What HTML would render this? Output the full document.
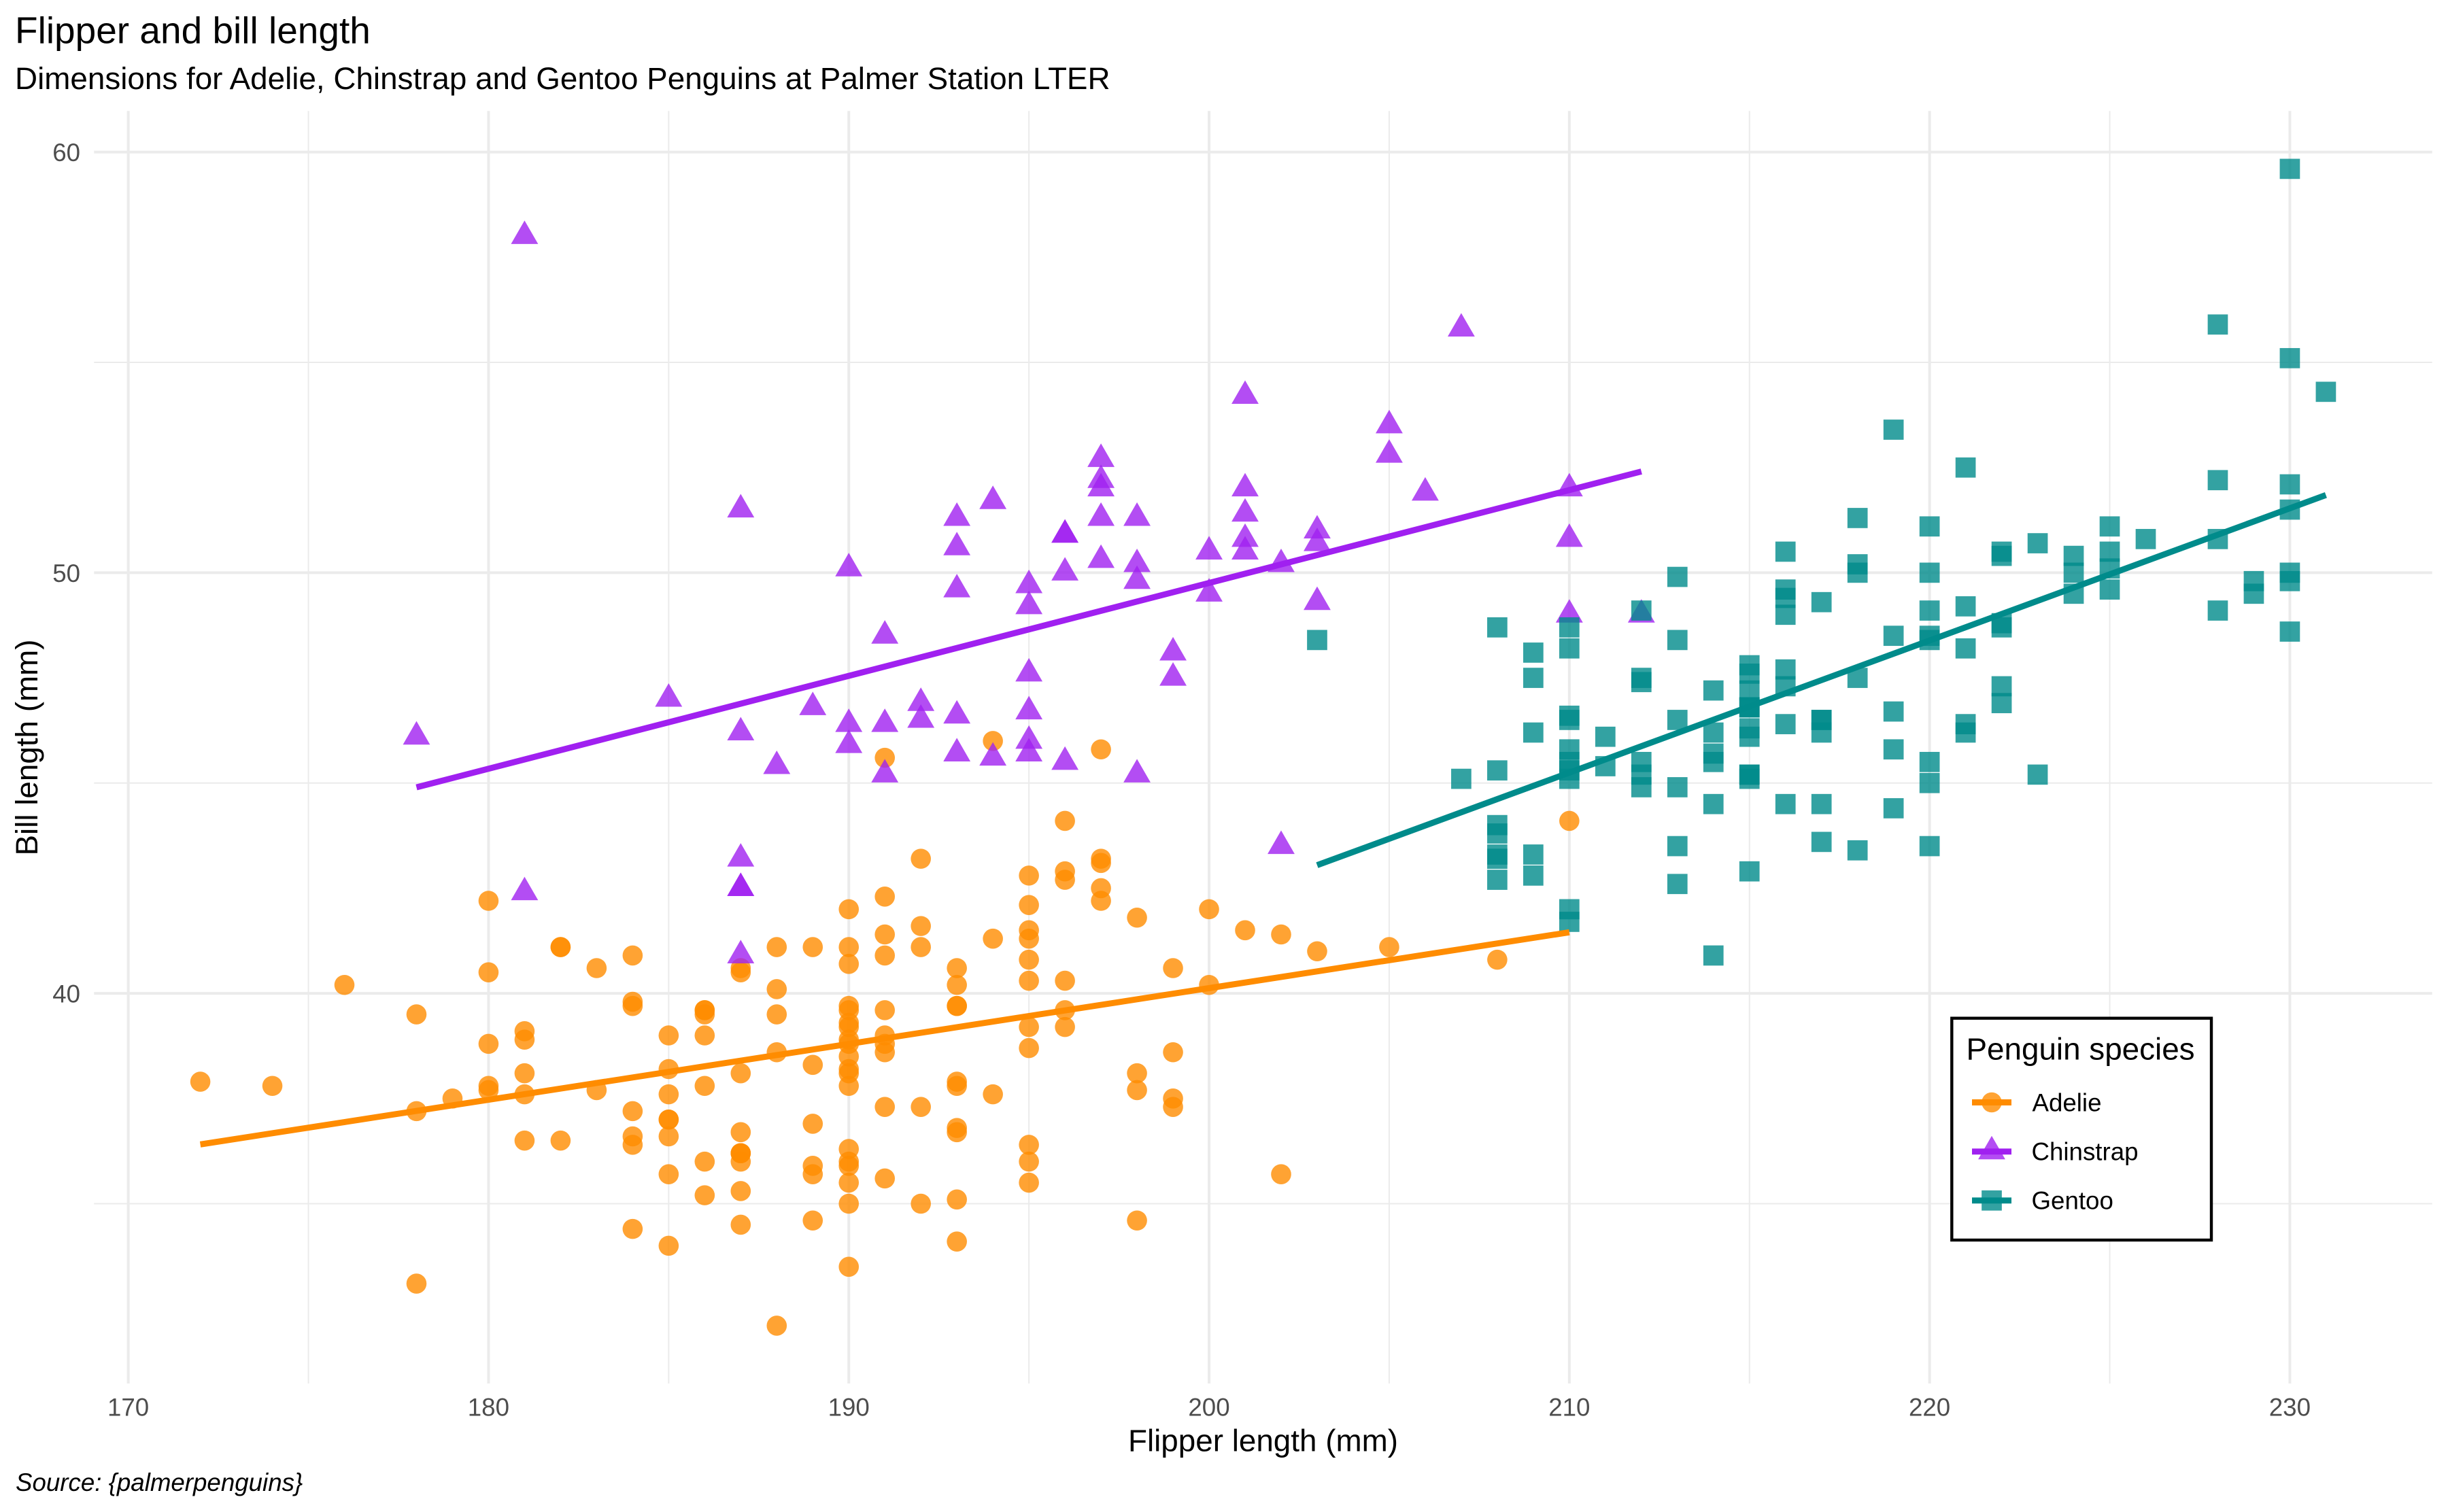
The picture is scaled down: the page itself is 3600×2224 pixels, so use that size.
<!DOCTYPE html>
<html><head><meta charset="utf-8">
<style>
html,body{margin:0;padding:0;background:#fff;}
svg{display:block;}
text{font-family:"Liberation Sans",Arial,Helvetica,sans-serif;}
</style></head>
<body>
<svg id="s" width="3600" height="2224" viewBox="0 0 3600 2224" xmlns="http://www.w3.org/2000/svg">
<rect x="0" y="0" width="3600" height="2224" fill="#ffffff"/>
<g id="grid"></g>
<g id="pts"></g>
<g id="lines"></g>

<!-- titles -->
<text x="22" y="63.3" font-size="55" fill="#000">Flipper and bill length</text>
<text x="22" y="131" font-size="45.8" fill="#000">Dimensions for Adelie, Chinstrap and Gentoo Penguins at Palmer Station LTER</text>

<!-- y tick labels -->
<g font-size="36.7" fill="#4D4D4D" text-anchor="end">
<text x="118" y="237.2">60</text>
<text x="118" y="856.0">50</text>
<text x="118" y="1474.7">40</text>
</g>
<!-- x tick labels -->
<g font-size="36.7" fill="#4D4D4D" text-anchor="middle">
<text x="188.6" y="2082.5">170</text>
<text x="718.4" y="2082.5">180</text>
<text x="1248.2" y="2082.5">190</text>
<text x="1778.0" y="2082.5">200</text>
<text x="2307.8" y="2082.5">210</text>
<text x="2837.6" y="2082.5">220</text>
<text x="3367.4" y="2082.5">230</text>
</g>

<!-- axis titles -->
<text x="1857.5" y="2134.3" font-size="45.8" fill="#000" text-anchor="middle">Flipper length (mm)</text>
<text transform="translate(55,1099.5) rotate(-90)" font-size="45.8" fill="#000" text-anchor="middle">Bill length (mm)</text>

<!-- caption -->
<text x="23" y="2193" font-size="36.7" font-style="italic" fill="#000">Source: {palmerpenguins}</text>

<!-- legend -->
<rect x="2870.3" y="1497.7" width="381.7" height="326.3" fill="#ffffff" stroke="#000" stroke-width="4.4"/>
<text x="2891.5" y="1558.3" font-size="45.8" fill="#000">Penguin species</text>
<g id="legkeys"></g>
<g font-size="36.7" fill="#000">
<text x="2988.5" y="1634.3">Adelie</text>
<text x="2987.5" y="1706.7">Chinstrap</text>
<text x="2987.5" y="1778.3">Gentoo</text>
</g>
</svg>
<script>
(function(){
var NS="http://www.w3.org/2000/svg";
function el(tag,attrs,parent){var e=document.createElementNS(NS,tag);for(var k in attrs)e.setAttribute(k,attrs[k]);parent.appendChild(e);return e;}
var L=138.3,R=3576.7,T=163.3,B=2035;
function X(v){return L+(v-169.05)*52.98;}
function Y(v){return T+(60.975-v)*61.875;}
var g=document.getElementById('grid');
var GC="#EBEBEB";
// minor
[175,185,195,205,215,225].forEach(function(v){el('line',{x1:X(v),x2:X(v),y1:T,y2:B,stroke:GC,'stroke-width':2},g);});
[35,45,55].forEach(function(v){el('line',{x1:L,x2:R,y1:Y(v),y2:Y(v),stroke:GC,'stroke-width':2},g);});
// major
[170,180,190,200,210,220,230].forEach(function(v){el('line',{x1:X(v),x2:X(v),y1:T,y2:B,stroke:GC,'stroke-width':4.04},g);});
[40,50,60].forEach(function(v){el('line',{x1:L,x2:R,y1:Y(v),y2:Y(v),stroke:GC,'stroke-width':4.04},g);});

var adelie=[[181,39.1],[186,39.5],[195,40.3],[193,36.7],[190,39.3],[181,38.9],[195,39.2],[193,34.1],[190,42.0],[186,37.8],[180,37.8],[182,41.1],[191,38.6],[198,34.6],[185,36.6],[195,38.7],[197,42.5],[184,34.4],[194,46.0],
[174,37.8],[180,37.7],[189,35.9],[185,38.2],[180,38.8],[187,35.3],[183,40.6],[187,40.5],[172,37.9],[180,40.5],
[178,39.5],[178,37.2],[188,39.5],[184,40.9],[195,36.4],[196,39.2],[190,38.8],[180,42.2],[181,37.6],[184,39.8],[182,36.5],[195,40.8],[186,36.0],[196,44.1],[185,37.0],[190,39.6],[182,41.1],[179,37.5],[190,36.0],[191,42.3],
[186,39.6],[188,40.1],[190,35.0],[200,42.0],[187,34.5],[191,41.4],[186,39.0],[193,40.6],[181,36.5],[194,37.6],[185,35.7],[195,41.3],[185,37.6],[192,41.1],[184,36.4],[192,41.6],[195,35.5],[188,41.1],
[190,35.9],[198,41.8],[190,33.5],[190,39.7],[196,39.6],[197,45.8],[190,35.5],[195,42.8],[191,40.9],[184,37.2],[187,36.2],[195,42.1],[189,34.6],[196,42.9],[187,36.7],[193,35.1],
[191,37.3],[194,41.3],[190,36.3],[189,36.9],[189,38.3],[190,38.9],[202,35.7],[205,41.1],[185,34.0],[186,39.6],[187,36.2],[208,40.8],[190,38.1],[196,40.3],[178,33.1],[192,43.2],
[192,35.0],[203,41.0],[183,37.7],[190,37.8],[193,37.9],[184,39.7],[199,38.6],[190,38.2],[181,38.1],[197,43.2],[198,38.1],[191,45.6],[193,39.7],[197,42.2],[191,39.6],[196,42.7],
[188,38.6],[199,37.3],[189,35.7],[189,41.1],[187,36.2],[198,37.7],[176,40.2],[202,41.4],[186,35.2],[199,40.6],[191,38.8],[195,41.5],[191,39.0],[210,44.1],[190,38.5],[197,43.1],
[193,36.8],[199,37.5],[187,38.1],[190,41.1],[191,35.6],[200,40.2],[185,37.0],[193,39.7],[193,40.2],[187,40.6],[188,32.1],[190,40.7],[192,37.3],[185,39.0],[190,39.2],[184,36.6],[195,36.0],[193,37.8],[187,36.0],[201,41.5]];
var chin=[[192,46.5],[196,50.0],[193,51.3],[188,45.4],[197,52.7],[198,45.2],[178,46.1],[197,51.3],[195,46.0],[198,51.3],[193,46.6],[194,51.7],[185,47.0],[201,52.0],[190,45.9],[201,50.5],[197,50.3],[181,58.0],[190,46.4],[195,49.2],[181,42.4],[191,48.5],[187,43.2],[193,50.6],[195,46.7],[197,52.0],
[200,50.5],[200,49.5],[191,46.4],[205,52.8],[187,40.9],[201,54.2],[187,42.5],[203,51.0],[195,49.7],[199,47.5],[195,47.6],[210,52.0],
[192,46.9],[205,53.5],[210,49.0],[187,46.2],[196,50.9],[196,45.5],[196,50.9],[201,50.8],[190,50.1],[212,49.0],[187,51.5],[198,49.8],[199,48.1],[201,51.4],[193,45.7],[203,50.7],[187,42.5],[197,52.2],[191,45.2],[203,49.3],[202,50.2],[194,45.6],[206,51.9],[189,46.8],[195,45.7],[207,55.8],[202,43.5],[193,49.6],[210,50.8],[198,50.2]];
var gent=[[211,46.1],[230,50.0],[210,48.7],[218,50.0],[215,47.6],[210,46.5],[211,45.4],[219,46.7],[209,43.3],[215,46.8],[214,40.9],[216,49.0],[214,45.5],[213,48.4],[210,45.8],[217,49.3],[210,42.0],[221,49.2],[209,46.2],[222,48.7],[218,50.2],[215,45.1],[213,46.5],[215,46.3],[215,42.9],[215,46.1],[216,44.5],[215,47.8],[210,48.2],[220,50.0],[222,47.3],[209,42.8],[207,45.1],[230,59.6],
[220,49.1],[220,48.4],[213,42.6],[219,44.4],[208,44.0],[208,48.7],[208,42.7],[225,49.6],[210,45.3],[216,49.6],[222,50.5],[217,43.6],[210,45.5],[225,50.5],[213,44.9],[215,45.2],[210,46.6],[220,48.5],[210,45.1],[225,50.1],[217,46.5],[220,45.0],[208,43.8],[220,45.5],[208,43.2],[224,50.4],[208,45.3],[221,46.2],[214,45.7],[231,54.3],[219,45.8],[230,49.8],
[214,46.2],[229,49.5],[220,43.5],[223,50.7],[216,47.7],[221,46.4],[221,48.2],[217,46.5],[216,46.4],[230,48.6],[209,47.5],[220,51.1],[215,45.2],[223,45.2],[212,49.1],[221,52.5],[212,47.4],[224,50.0],[212,44.9],[228,50.8],[218,43.4],[218,51.3],[212,47.5],[230,52.1],[218,47.5],[228,52.2],[212,45.5],[224,49.5],[214,44.5],[226,50.8],[216,49.4],[222,46.9],[203,48.4],[225,51.1],[219,48.5],[228,55.9],[215,47.2],[228,49.1],[216,47.3],[215,46.8],[210,41.7],[219,53.4],[208,43.3],[209,48.1],[216,50.5],[229,49.8],[213,43.5],[230,51.5],[217,46.2],[230,55.1],[217,44.5],[222,48.8],[214,47.2],[215,46.8],[222,50.4],[212,45.2],[213,49.9]];

var C1="#FF8C00",C2="#A020F0",C3="#008B8B";
var r=14.8;
function circ(cx,cy,col,p){el('circle',{cx:cx,cy:cy,r:r,fill:col,'fill-opacity':0.8},p);}
function tri(cx,cy,col,p){
  var t=1.5551*r,b=0.7776*r,h=1.3468*r;
  el('polygon',{points:cx+','+(cy-t)+' '+(cx-h)+','+(cy+b)+' '+(cx+h)+','+(cy+b),fill:col,'fill-opacity':0.8},p);
}
function sq(cx,cy,col,p){var s=14.85;el('rect',{x:cx-s,y:cy-s,width:2*s,height:2*s,fill:col,'fill-opacity':0.8},p);}

var pg=document.getElementById('pts');
adelie.forEach(function(d){circ(X(d[0]),Y(d[1]),C1,pg);});
chin.forEach(function(d){tri(X(d[0]),Y(d[1]),C2,pg);});
gent.forEach(function(d){sq(X(d[0]),Y(d[1]),C3,pg);});

var lg=document.getElementById('lines');
function fit(data,col){
  var n=data.length,sx=0,sy=0,sxx=0,sxy=0,mn=1e9,mx=-1e9;
  data.forEach(function(d){sx+=d[0];sy+=d[1];sxx+=d[0]*d[0];sxy+=d[0]*d[1];if(d[0]<mn)mn=d[0];if(d[0]>mx)mx=d[0];});
  var b=(n*sxy-sx*sy)/(n*sxx-sx*sx),a=(sy-b*sx)/n;
  el('line',{x1:X(mn),y1:Y(a+b*mn),x2:X(mx),y2:Y(a+b*mx),stroke:col,'stroke-width':8.9,'stroke-linecap':'butt'},lg);
}
fit(adelie,C1);fit(chin,C2);fit(gent,C3);

// legend keys
var lk=document.getElementById('legkeys');
var kx=2929;
circ(kx,1621.5,C1,lk);
el('line',{x1:2900,x2:2958,y1:1621.5,y2:1621.5,stroke:C1,'stroke-width':8.9},lk);
tri(kx,1693.8,C2,lk);
el('line',{x1:2900,x2:2958,y1:1693.8,y2:1693.8,stroke:C2,'stroke-width':8.9},lk);
sq(kx,1765.8,C3,lk);
el('line',{x1:2900,x2:2958,y1:1765.8,y2:1765.8,stroke:C3,'stroke-width':8.9},lk);
})();
</script>
</body></html>
